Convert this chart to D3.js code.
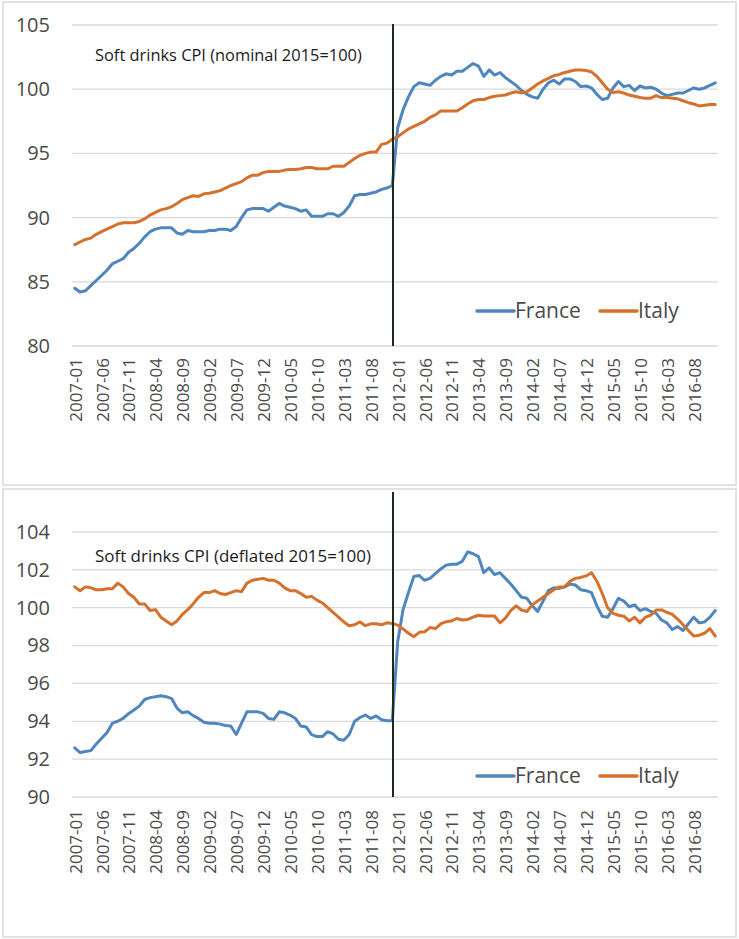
<!DOCTYPE html>
<html>
<head>
<meta charset="utf-8">
<script src="https://cdn.jsdelivr.net/npm/d3@7"></script>
<style>
  html, body { margin: 0; padding: 0; background: #fff; }
  svg { display: block; }
  text { font-family: "Open Sans", "Liberation Sans", Arial, sans-serif; }
</style>
</head>
<body>
<svg id="chart" width="739" height="939"></svg>
<script>
// ---------- DATA ----------
const months = [];
for (let y = 2007; y <= 2016; y++) for (let m = 1; m <= 12; m++) months.push(y + "-" + String(m).padStart(2, "0"));
const tickLabels = months.filter((d, i) => i % 5 === 0);

const franceNominal = [
  84.5,84.2,84.3,84.7,85.1,85.5,85.9,86.4,86.6,86.8,87.3,87.6,88.0,88.5,88.9,89.1,89.2,89.2,89.2,88.8,
  88.7,89.0,88.9,88.9,88.9,89.0,89.0,89.1,89.1,89.0,89.3,90.0,90.6,90.7,90.7,90.7,90.5,90.8,91.1,90.9,
  90.8,90.7,90.5,90.6,90.1,90.1,90.1,90.3,90.3,90.1,90.4,90.9,91.7,91.8,91.8,91.9,92.0,92.2,92.3,92.5,
  97.0,98.4,99.4,100.2,100.5,100.4,100.3,100.7,101.0,101.2,101.1,101.4,101.4,101.7,102.0,101.8,101.0,101.5,101.1,101.3,
  100.9,100.6,100.3,99.9,99.6,99.4,99.3,100.0,100.5,100.7,100.4,100.8,100.8,100.6,100.2,100.25,100.1,99.6,99.2,99.3,
  100.1,100.6,100.2,100.3,99.9,100.25,100.1,100.15,100.0,99.7,99.5,99.6,99.7,99.7,99.9,100.1,100.0,100.1,100.3,100.5
];
const italyNominal = [
  87.9,88.1,88.3,88.4,88.7,88.9,89.1,89.3,89.5,89.6,89.6,89.6,89.7,89.9,90.2,90.4,90.6,90.7,90.85,91.1,
  91.4,91.55,91.7,91.65,91.85,91.9,92.0,92.1,92.3,92.5,92.65,92.8,93.1,93.3,93.3,93.5,93.6,93.6,93.6,93.7,
  93.75,93.75,93.8,93.9,93.9,93.8,93.8,93.8,94.0,94.0,94.0,94.3,94.6,94.85,95.0,95.1,95.1,95.7,95.8,96.1,
  96.3,96.6,96.9,97.1,97.3,97.5,97.8,98.0,98.3,98.3,98.3,98.3,98.55,98.85,99.1,99.2,99.2,99.35,99.45,99.5,
  99.55,99.7,99.8,99.7,99.8,100.1,100.4,100.65,100.85,101.05,101.15,101.3,101.4,101.5,101.5,101.45,101.35,101.0,100.5,100.0,
  99.75,99.8,99.7,99.55,99.45,99.35,99.3,99.3,99.5,99.35,99.35,99.3,99.25,99.1,98.95,98.85,98.7,98.75,98.8,98.8
];
const franceDeflated = [
  92.6,92.35,92.4,92.45,92.8,93.1,93.4,93.9,94.0,94.15,94.4,94.6,94.8,95.15,95.25,95.3,95.35,95.3,95.2,94.7,
  94.45,94.5,94.3,94.15,93.95,93.9,93.9,93.85,93.78,93.75,93.3,93.9,94.5,94.5,94.5,94.42,94.15,94.1,94.5,94.45,
  94.33,94.15,93.75,93.7,93.3,93.19,93.19,93.45,93.33,93.05,93.0,93.3,94.0,94.2,94.33,94.15,94.28,94.08,94.03,94.03,
  98.2,99.9,100.8,101.65,101.7,101.45,101.55,101.8,102.05,102.25,102.3,102.3,102.45,102.95,102.85,102.7,101.85,102.1,101.75,101.85,
  101.55,101.25,100.9,100.55,100.5,100.1,99.8,100.35,100.9,101.05,101.02,101.1,101.25,101.2,100.95,100.9,100.8,100.1,99.55,99.5,
  99.95,100.5,100.35,100.05,100.15,99.85,99.95,99.8,99.7,99.35,99.2,98.85,99.0,98.8,99.15,99.5,99.2,99.25,99.5,99.85
];
const italyDeflated = [
  101.1,100.9,101.1,101.05,100.95,100.95,101.0,101.0,101.3,101.1,100.75,100.55,100.2,100.2,99.85,99.9,99.5,99.3,99.1,99.3,
  99.65,99.9,100.2,100.55,100.8,100.8,100.9,100.75,100.7,100.8,100.9,100.85,101.3,101.45,101.5,101.55,101.45,101.45,101.3,101.05,
  100.9,100.9,100.75,100.55,100.6,100.4,100.25,100.0,99.75,99.5,99.25,99.05,99.1,99.25,99.05,99.15,99.15,99.1,99.2,99.17,
  99.08,98.88,98.65,98.47,98.7,98.73,98.95,98.9,99.15,99.26,99.3,99.43,99.35,99.38,99.5,99.6,99.56,99.56,99.56,99.2,
  99.45,99.85,100.1,99.88,99.8,100.15,100.35,100.55,100.75,100.95,101.1,101.1,101.4,101.55,101.6,101.68,101.85,101.4,100.75,100.0,
  99.7,99.6,99.55,99.3,99.5,99.2,99.5,99.6,99.88,99.88,99.76,99.65,99.4,99.1,98.8,98.5,98.55,98.65,98.9,98.5
];
const topTicks = [80, 85, 90, 95, 100, 105];
const bottomTicks = [90, 92, 94, 96, 98, 100, 102, 104];
const seriesNames = ["France", "Italy"];
const breakMonth = "2012-01";

// ---------- DRAW ----------
const svg = d3.select("#chart");
const colors = { France: "#4f86bd", Italy: "#d4722d" };
const textColor = "#4a4a4a";
const font = "Open Sans, Liberation Sans, Arial, sans-serif";

function panel(cfg) {
  const g = svg.append("g");
  g.append("rect").attr("x", cfg.frame[0]).attr("y", cfg.frame[1])
    .attr("width", cfg.frame[2]).attr("height", cfg.frame[3])
    .attr("fill", "#fff").attr("stroke", "#d9d9d9").attr("stroke-width", 1.5);

  const x = d3.scaleBand().domain(months).range([72, 718]).padding(0);
  const xc = d => x(d) + x.bandwidth() / 2;
  const y = d3.scaleLinear().domain(cfg.yDomain).range([cfg.yRange[0], cfg.yRange[1]]);

  // gridlines
  g.append("g").selectAll("line").data(cfg.ticks).join("line")
    .attr("x1", 72).attr("x2", 718)
    .attr("y1", d => y(d)).attr("y2", d => y(d))
    .attr("stroke", "#d9d9d9").attr("stroke-width", 1.3);

  // y axis labels
  const ya = g.append("g").attr("transform", "translate(50,0)")
    .call(d3.axisLeft(y).tickValues(cfg.ticks).tickSize(0).tickPadding(0));
  ya.select(".domain").remove();
  ya.selectAll("text").attr("font-size", 20).attr("fill", textColor)
    .attr("font-family", font);

  // x axis labels
  const xa = g.append("g").attr("transform", `translate(0,${cfg.yRange[0]})`)
    .call(d3.axisBottom(x).tickValues(tickLabels).tickSize(0).tickPadding(0));
  xa.select(".domain").remove();
  xa.selectAll("text")
    .attr("font-size", 17).attr("fill", textColor)
    .attr("font-family", font)
    .attr("text-anchor", "end")
    .attr("transform", `translate(1,${cfg.labelGap}) rotate(-90)`)
    .attr("x", 0).attr("y", 0).attr("dy", "0.35em");

  // series lines
  const line = d3.line().x((d, i) => xc(months[i])).y(d => y(d));
  cfg.series.forEach(s => {
    g.append("path").datum(s.values)
      .attr("fill", "none").attr("stroke", colors[s.name])
      .attr("stroke-width", 3).attr("stroke-linejoin", "round").attr("stroke-linecap", "round")
      .attr("d", line);
  });

  // vertical break line
  const bx = x(breakMonth) - 2;
  g.append("line").attr("x1", bx).attr("x2", bx)
    .attr("y1", cfg.vTop).attr("y2", cfg.yRange[0])
    .attr("stroke", "#1d2b1d").attr("stroke-width", 2);

  // title
  const t = g.append("text").attr("x", 95).attr("y", cfg.titleY)
    .attr("font-size", 15).attr("fill", "#1a1a1a").attr("dy", "0.35em")
    .text(cfg.title);
  const w = t.node().getComputedTextLength();
  t.attr("font-size", 15 * cfg.titleW / w);

  // legend
  const leg = g.append("g").attr("transform", `translate(0,${cfg.legendY})`);
  const legX = { France: 477, Italy: 600 };
  seriesNames.forEach(n => {
    leg.append("line").attr("x1", legX[n]).attr("x2", legX[n] + 37)
      .attr("y1", 0).attr("y2", 0).attr("stroke", colors[n]).attr("stroke-width", 3.5)
      .attr("stroke-linecap", "round");
    leg.append("text").attr("x", legX[n] + 38).attr("y", 0).attr("dy", "0.35em")
      .attr("font-size", 21).attr("fill", textColor).text(n);
  });
}

panel({
  frame: [3, 2, 733, 483],
  yDomain: [80, 105], yRange: [346, 25], ticks: topTicks,
  labelGap: 12, vTop: 24, titleY: 55, titleW: 267,
  title: "Soft drinks CPI (nominal 2015=100)",
  legendY: 311,
  series: [{ name: "France", values: franceNominal }, { name: "Italy", values: italyNominal }]
});
panel({
  frame: [3, 489, 733, 448],
  yDomain: [90, 104], yRange: [797, 532], ticks: bottomTicks,
  labelGap: 13, vTop: 492, titleY: 556, titleW: 276,
  title: "Soft drinks CPI (deflated 2015=100)",
  legendY: 776,
  series: [{ name: "France", values: franceDeflated }, { name: "Italy", values: italyDeflated }]
});
</script>
</body>
</html>
